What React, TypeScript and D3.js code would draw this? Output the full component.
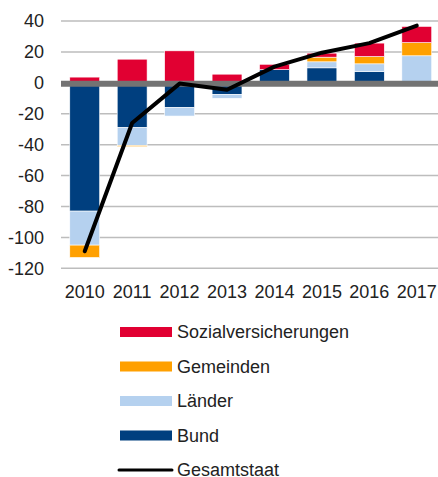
import React, { useEffect, useRef } from "react";
import * as d3 from "d3";

const years = ["2010", "2011", "2012", "2013", "2014", "2015", "2016", "2017"];
const bund = [-83, -29, -16, -7.5, 8.5, 9.7, 7.3, 0];
const laender = [-22, -11.5, -5.5, -2.5, 0, 3.9, 5, 17.5];
const gemeinden = [-8, -0.8, 1, 0, -0.8, 3, 4.7, 8.5];
const sozial = [3.7, 15.3, 19.7, 5.6, 3.5, 2.6, 8.7, 10.5];
const gesamt = [-109, -26, -0.5, -4.5, 10.5, 19.5, 25.7, 37];
const yTicks = [-120, -100, -80, -60, -40, -20, 0, 20, 40];

const seriesKeys = ["Bund", "Länder", "Gemeinden", "Sozialversicherungen"];
const colors: Record<string, string> = {
  Bund: "#003f7f",
  "Länder": "#b5d1ef",
  Gemeinden: "#ffa000",
  Sozialversicherungen: "#e10032",
};
const legendOrder = ["Sozialversicherungen", "Gemeinden", "Länder", "Bund"];

export default function App() {
  const svgRef = useRef<SVGSVGElement>(null);
  const width = 438;
  const height = 477;

  useEffect(() => {
    const svg = d3.select(svgRef.current);
    svg.selectAll("*").remove();

    const font = "Liberation Sans, Arial, sans-serif";

    const x = d3.scaleBand().domain(years).range([61, 440.5]).paddingInner(0.37).paddingOuter(0.185);
    const y = d3.scaleLinear().domain([-120, 40]).range([268.3, 21]);

    // grid
    svg
      .append("g")
      .selectAll("line")
      .data(yTicks)
      .join("line")
      .attr("x1", 61)
      .attr("x2", width)
      .attr("y1", (d) => y(d))
      .attr("y2", (d) => y(d))
      .attr("stroke", "#bdbdbd")
      .attr("stroke-width", 1.5);

    // y labels
    svg
      .append("g")
      .selectAll("text")
      .data(yTicks)
      .join("text")
      .attr("x", 44)
      .attr("y", (d) => y(d))
      .attr("dy", "0.35em")
      .attr("text-anchor", "end")
      .attr("font-family", font)
      .attr("font-size", 18)
      .attr("fill", "#222")
      .text((d) => d);

    // x labels
    svg
      .append("g")
      .selectAll("text")
      .data(years)
      .join("text")
      .attr("x", (d) => x(d)! + x.bandwidth() / 2)
      .attr("y", 298)
      .attr("text-anchor", "middle")
      .attr("font-family", font)
      .attr("font-size", 18)
      .attr("fill", "#222")
      .text((d) => d);

    const rows = years.map((yr, i) => ({
      year: yr,
      Bund: bund[i],
      "Länder": laender[i],
      Gemeinden: gemeinden[i],
      Sozialversicherungen: sozial[i],
    }));

    const stack = d3.stack<any>().keys(seriesKeys).offset(d3.stackOffsetDiverging);
    const stacked = stack(rows);

    svg
      .append("g")
      .selectAll("g")
      .data(stacked)
      .join("g")
      .attr("fill", (s) => colors[s.key])
      .selectAll("rect")
      .data((s) => s)
      .join("rect")
      .attr("x", (d: any) => x(d.data.year)!)
      .attr("width", x.bandwidth())
      .attr("y", (d) => y(Math.max(d[0], d[1])))
      .attr("height", (d) => Math.abs(y(d[0]) - y(d[1])))
      .attr("stroke", "#fff")
      .attr("stroke-width", 0.6);

    // zero line
    svg
      .append("line")
      .attr("x1", 61)
      .attr("x2", width)
      .attr("y1", y(0) + 1)
      .attr("y2", y(0) + 1)
      .attr("stroke", "#737373")
      .attr("stroke-width", 6);

    const line = d3
      .line<number>()
      .x((_, i) => x(years[i])! + x.bandwidth() / 2)
      .y((d) => y(d));

    svg
      .append("path")
      .datum(gesamt)
      .attr("fill", "none")
      .attr("stroke", "#000")
      .attr("stroke-width", 4)
      .attr("stroke-linejoin", "round")
      .attr("stroke-linecap", "round")
      .attr("d", line);

    // legend
    const legend = svg.append("g");
    const rowGap = 34.5;
    legendOrder.forEach((k, i) => {
      const cy = 332 + i * rowGap;
      legend
        .append("rect")
        .attr("x", 120)
        .attr("y", cy - 5)
        .attr("width", 52)
        .attr("height", 10)
        .attr("fill", colors[k]);
      legend
        .append("text")
        .attr("x", 177)
        .attr("y", cy)
        .attr("dy", "0.35em")
        .attr("font-family", font)
        .attr("font-size", 18)
        .attr("fill", "#222")
        .text(k);
    });
    const ly = 332 + 4 * rowGap;
    legend
      .append("line")
      .attr("x1", 119)
      .attr("x2", 172)
      .attr("y1", ly)
      .attr("y2", ly)
      .attr("stroke", "#000")
      .attr("stroke-width", 3)
      .attr("stroke-linecap", "round");
    legend
      .append("text")
      .attr("x", 177)
      .attr("y", ly)
      .attr("dy", "0.35em")
      .attr("font-family", font)
      .attr("font-size", 18)
      .attr("fill", "#222")
      .text("Gesamtstaat");
  }, []);

  return (
    <div style={{ position: "absolute", left: 0, top: 0 }}>
      <svg width={width} height={height} ref={svgRef} style={{ display: "block" }} />
    </div>
  );
}
